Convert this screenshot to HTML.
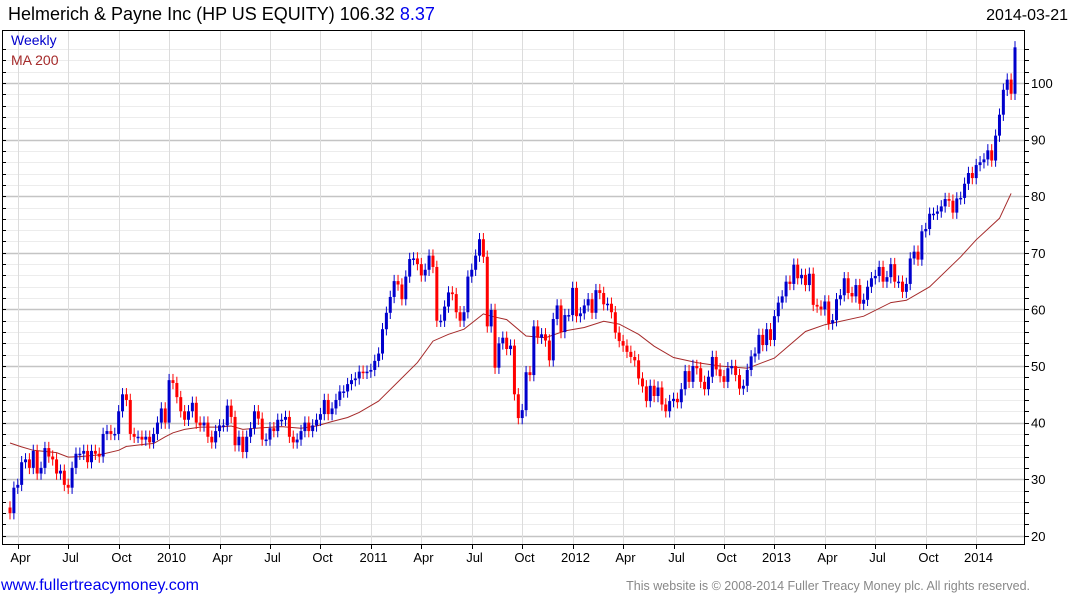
<!DOCTYPE html>
<html><head><meta charset="utf-8"><style>
body{margin:0;background:#fff;width:1075px;height:600px;overflow:hidden;font-family:"Liberation Sans",Arial,sans-serif}
svg text{font-family:"Liberation Sans",Arial,sans-serif}
</style></head><body>
<svg id="chart" width="1075" height="600" xmlns="http://www.w3.org/2000/svg">
<text x="8" y="20" font-size="18" fill="#000">Helmerich &amp; Payne Inc (HP US EQUITY) 106.32 <tspan fill="#0000ee">8.37</tspan></text>
<text x="1068" y="20" font-size="16" text-anchor="end" fill="#000">2014-03-21</text>
<g id="grid"></g><g id="ma"></g><g id="candles"></g><g id="axes"></g>
<rect x="2.5" y="30.5" width="1022" height="514" fill="none" stroke="#000" stroke-width="1"/>
<text x="11" y="45" font-size="14" fill="#0000cc">Weekly</text>
<text x="11" y="65" font-size="14" fill="#a52a2a">MA 200</text>
<text x="1" y="590" font-size="16" fill="#0000ee">www.fullertreacymoney.com</text>
<text x="1030" y="590" font-size="12.5" text-anchor="end" fill="#888">This website is © 2008-2014 Fuller Treacy Money plc. All rights reserved.</text>
</svg>
<script>
const closes=[24,28.5,29,33,33.5,32,35,31,32,35.5,34,33.5,31,31.5,29,28.5,32,34.5,34.5,35,33,35,34.5,34,38,38.5,38,38,42,45,44,38,37.5,37.5,37,37.5,36.5,38,40,42.5,40,47.5,47,44.5,42,40.5,42,43.5,40,39.5,40,37.5,36.5,38.5,39.5,39.5,43,41,36,37.5,34.8,37.5,39,42,40.7,37,37,39,38.5,40.5,40.5,41,37.5,36.5,37,38.5,40,38.5,39.5,40.5,41.5,44,41.5,42.5,44,45.5,45.5,46.8,47.5,47.8,49,
48.8,49,49.3,50.9,52.2,56.5,59.4,62.2,65,64.4,61.8,65.8,68.9,69,68,66,67,69.5,67.5,58,58,60.5,63,62.7,59.5,58,59.5,65.8,67,69.5,72.4,69.3,57,59.9,49.7,54,55,53,53.6,45,40.8,42.2,48.9,48.4,57,55,55.6,54.5,51,58.3,60.7,56,59,59,63.8,58.8,59.3,60.7,61.8,59.4,63.4,62.9,60.9,61,59.5,55.9,54.4,53.6,52.5,51.6,51,47.8,46.4,43.8,46.5,44.7,46.2,43.2,42,43.8,44.2,43.6,45.9,49.1,
47.2,50,49.6,47.2,45.9,48.1,51.6,49.4,48.2,47.2,49.6,50,48.4,46,46.5,49.3,51.7,52.2,55.5,53.7,56.5,54.6,58.8,61.2,62.3,64.9,64.5,67.9,65.5,66.1,64.3,66.3,60.8,60.5,60,61.4,57.5,58.1,61.8,62.5,65.5,62.9,62.3,64.3,61,61.7,64,65.5,65.9,67.5,64.9,65.7,68,64.9,64.9,63.1,64.5,69,70.2,68.8,73.8,74.2,76.9,76.9,77.3,78.2,79.5,79.2,77.1,79.6,79.7,82.2,84.1,83.2,85.5,86,86.5,88.1,86.3,90.7,94.4,98.8,100.6,98.1,106.3];
const maWeeks=[0,3,6,12,15,18,23,28,30,35,37,40,42,45,49,54,57,60,65,70,75,79,83,87,90,95,105,109,113,117,122,124,128,133,138,143,148,153,157,162,166,171,177,183,190,197,205,210,220,227,231,237,245,249,255,258];
const maValues=[36.4,35.7,35.1,34.7,33.9,34,34.3,35.1,35.8,36.2,36.3,37.5,38.2,38.8,39.2,39.2,39.4,38.8,39.1,39.3,39,39.4,40.2,40.9,41.8,43.8,50.6,54.4,55.6,56.5,59.2,58.8,58.2,55.3,55,56.2,56.8,57.9,57.4,55.6,53.5,51.5,50.6,50,49.6,51.4,56.1,57.3,58.8,61.2,61.6,64,69.3,72.3,76.1,80.5];
const yTicks=[20,30,40,50,60,70,80,90,100];
const xTickLabels=["Apr","Jul","Oct","2010","Apr","Jul","Oct","2011","Apr","Jul","Oct","2012","Apr","Jul","Oct","2013","Apr","Jul","Oct","2014"];
const xTickWeeks=[2,15,28,41,54,67,80,93,106,119,132,145,158,171,184,197,210,223,236,249];

const NS="http://www.w3.org/2000/svg";
const N=closes.length;
function xs(i){return 10+i*(1015-10)/(N-1);}
function ys(v){return 366-(v-50)*5.66;}
function mk(tag,attrs,parent){const e=document.createElementNS(NS,tag);for(const k in attrs)e.setAttribute(k,attrs[k]);parent.appendChild(e);return e;}
const grid=document.getElementById('grid'),axes=document.getElementById('axes');
for(let v=20;v<=106;v+=2){
  const y=Math.round(ys(v))+0.5;
  const major=v%10===0;
  const l=mk('line',{x1:3,x2:1024,y1:y,y2:y,stroke:major?'#c4c4c4':'#ececec','stroke-width':major?1.5:1},grid);
  
  
  const t=mk('line',{x1:1025,x2:1029,y1:y,y2:y,stroke:'#000'},axes);
  
  
  const t2=mk('line',{x1:2,x2:6,y1:y,y2:y,stroke:'#000'},axes);
  
  
}
yTicks.forEach(v=>{
  const t=mk('text',{x:1031,y:ys(v)+5,'font-size':13,fill:'#000'},axes);
  t.textContent=String(v);
  
  
});
xTickWeeks.forEach((w,k)=>{
  const x=Math.round(xs(w))+0.5;
  const g=mk('line',{x1:x,x2:x,y1:31,y2:544,stroke:'#dcdcdc','stroke-width':1},grid);
  
  
  const t=mk('line',{x1:x,x2:x,y1:545,y2:549,stroke:'#000'},axes);
  
  
  const lb=mk('text',{x:x+2,y:562,'font-size':13,'text-anchor':'middle',fill:'#000'},axes);
  lb.textContent=xTickLabels[k];
  
  
});
const ma=document.getElementById('ma');
const pts=maWeeks.map((w,k)=>xs(w).toFixed(1)+','+ys(maValues[k]).toFixed(1)).join(' ');
const pl=mk('polyline',{points:pts,fill:'none',stroke:'#a52a2a','stroke-width':1},ma);


const cg=document.getElementById('candles');
for(let i=0;i<N;i++){
  const o=i===0?25:closes[i-1], c=closes[i];
  const up=c>=o, col=up?'#0000cc':'#ff0000';
  const hi=Math.max(o,c)+1.1, lo=Math.min(o,c)-1.1;
  const x=xs(i);
  const w=mk('line',{x1:x,x2:x,y1:ys(hi),y2:ys(lo),stroke:col,'stroke-width':1},cg);
  
  
  const top=ys(Math.max(o,c)), bot=ys(Math.min(o,c));
  const b=mk('rect',{x:x-1.5,y:top,width:3,height:Math.max(1.5,bot-top),fill:col},cg);
  
  
}
</script>
</body></html>
